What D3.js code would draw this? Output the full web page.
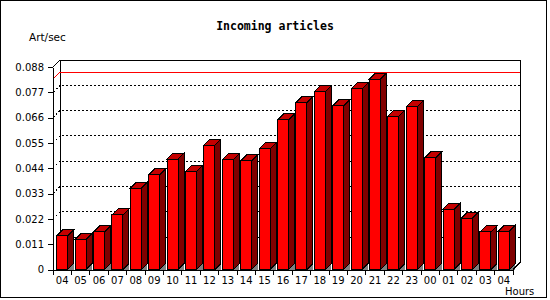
<!doctype html>
<html>
<head>
  <meta charset="UTF-8">
  <script src="https://d3js.org/d3.v7.min.js"></script>
  <style>
    body { margin: 0; background: #fff; }
    svg { display: block; }
    .lbl { font-family: "DejaVu Sans", sans-serif; font-size: 10px; fill: #000; }
    .title { font-family: "DejaVu Sans Mono", monospace; font-size: 11.5px; font-weight: bold; }
  </style>
</head>
<body>
<svg width="550" height="300"></svg>
<script>
// hours shown on the x axis (04 appears twice: first and last bar)
const hours = ["04","05","06","07","08","09","10","11","12","13","14","15","16","17","18","19","20","21","22","23","00","01","02","03","04"];
// incoming articles per second
const artPerSec = [0.0146, 0.0131, 0.0163, 0.0237, 0.0353, 0.0411, 0.0480, 0.0425, 0.0541, 0.0476,
                   0.0472, 0.0524, 0.0650, 0.0725, 0.0772, 0.0711, 0.0785, 0.0827, 0.0667, 0.0707,
                   0.0486, 0.0262, 0.0223, 0.0163, 0.0167];
const yTicks = [0, 0.011, 0.022, 0.033, 0.044, 0.055, 0.066, 0.077, 0.088];

var svg = d3.select("svg");
var depth = 7;      // depth of the back wall
var barDepth = 6;   // depth of each bar

var x = d3.scaleBand().domain(d3.range(hours.length)).range([53, 513])
          .paddingInner(0.4).paddingOuter(0.2);
var y = d3.scaleLinear().domain([0, 0.088]).range([269.5, 67]);

var g = svg.append("g").attr("shape-rendering", "crispEdges");

// outer frame
g.append("rect").attr("x", 0.5).attr("y", 0.5).attr("width", 546).attr("height", 297)
  .attr("fill", "#fff").attr("stroke", "#000");

// back wall outline
var xl = x.range()[0] + depth, xr = x.range()[1] + depth;
var yt = y(0.088) - depth, yb = y(0) - depth;
g.append("path").attr("d", "M" + xl + "," + yb + "V" + yt + "H" + xr + "V" + yb)
  .attr("fill", "none").attr("stroke", "#000");

// dotted grid on the back wall and the left wall
yTicks.slice(1, -1).forEach(function(v) {
  g.append("path")
    .attr("d", "M" + x.range()[0] + "," + y(v) + "L" + xl + "," + (y(v) - depth) + "H" + xr)
    .attr("fill", "none").attr("stroke", "#000").attr("stroke-dasharray", "2,2");
});

// line at the maximum
var maxV = d3.max(artPerSec);
g.append("path")
  .attr("d", "M" + x.range()[0] + "," + y(maxV) + "L" + xl + "," + (y(maxV) - depth) + "H" + xr)
  .attr("fill", "none").attr("stroke", "#ff0000");

// bars
var bars = g.selectAll(".bar").data(artPerSec).enter().append("g").attr("class", "bar");
bars.each(function(d, i) {
  var b = d3.select(this);
  var x0 = x(i), x1 = x(i) + x.bandwidth(), y0 = y(0), y1 = y(d);
  b.append("path")
    .attr("d", "M" + x1 + "," + y0 + "L" + (x1 + barDepth) + "," + (y0 - barDepth) + "V" + y0 + "Z")
    .attr("fill", "#808080");
  b.append("path")
    .attr("d", "M" + x1 + "," + y0 + "V" + y1 + "L" + (x1 + barDepth) + "," + (y1 - barDepth) +
               "V" + (y0 - barDepth) + "Z")
    .attr("fill", "#800000").attr("stroke", "#000");
  b.append("path")
    .attr("d", "M" + x0 + "," + y1 + "L" + (x0 + barDepth) + "," + (y1 - barDepth) +
               "H" + (x1 + barDepth) + "L" + x1 + "," + y1 + "Z")
    .attr("fill", "#c40000").attr("stroke", "#000");
  b.append("rect").attr("x", x0).attr("y", y1).attr("width", x.bandwidth()).attr("height", y0 - y1)
    .attr("fill", "#ff0000").attr("stroke", "#000");
});

// 3D corners of the frame
g.append("path").attr("d", "M" + x.range()[0] + "," + y(0.088) + "L" + xl + "," + yt)
  .attr("stroke", "#000").attr("fill", "none");
g.append("path").attr("d", "M" + x.range()[1] + "," + y(0) + "L" + xr + "," + yb)
  .attr("stroke", "#000").attr("fill", "none");

// y axis
var yAxis = g.append("g").attr("transform", "translate(" + x.range()[0] + ",0)")
  .call(d3.axisLeft(y).tickValues(yTicks).tickSize(5).tickSizeOuter(0).tickPadding(4)
    .tickFormat(function(v) { return v === 0 ? "0" : d3.format(".3f")(v); }));
yAxis.selectAll("text").attr("class", "lbl").attr("font-family", null).attr("font-size", null);

// x axis: labels centred in each band, ticks on the band edges
var step = x.step();
var xAxis = g.append("g").attr("transform", "translate(0," + y(0) + ")")
  .call(d3.axisBottom(x).tickSize(0).tickSizeOuter(0).tickPadding(7)
    .tickFormat(function(i) { return hours[i]; }));
xAxis.selectAll("text").attr("class", "lbl").attr("font-family", null).attr("font-size", null);
xAxis.selectAll(".edge").data(d3.range(hours.length + 1)).enter().append("line")
  .attr("class", "edge")
  .attr("x1", function(i) { return x.range()[0] + i * step; })
  .attr("x2", function(i) { return x.range()[0] + i * step; })
  .attr("y1", 0).attr("y2", 5).attr("stroke", "#000");

// texts
svg.append("text").attr("class", "title").attr("x", 275).attr("y", 30)
  .attr("text-anchor", "middle").text("Incoming articles");
svg.append("text").attr("class", "lbl").attr("x", 29).attr("y", 41)
  .style("font-size", "10.5px").text("Art/sec");
svg.append("text").attr("class", "lbl").attr("x", 505).attr("y", 295).text("Hours");
</script>
</body>
</html>
